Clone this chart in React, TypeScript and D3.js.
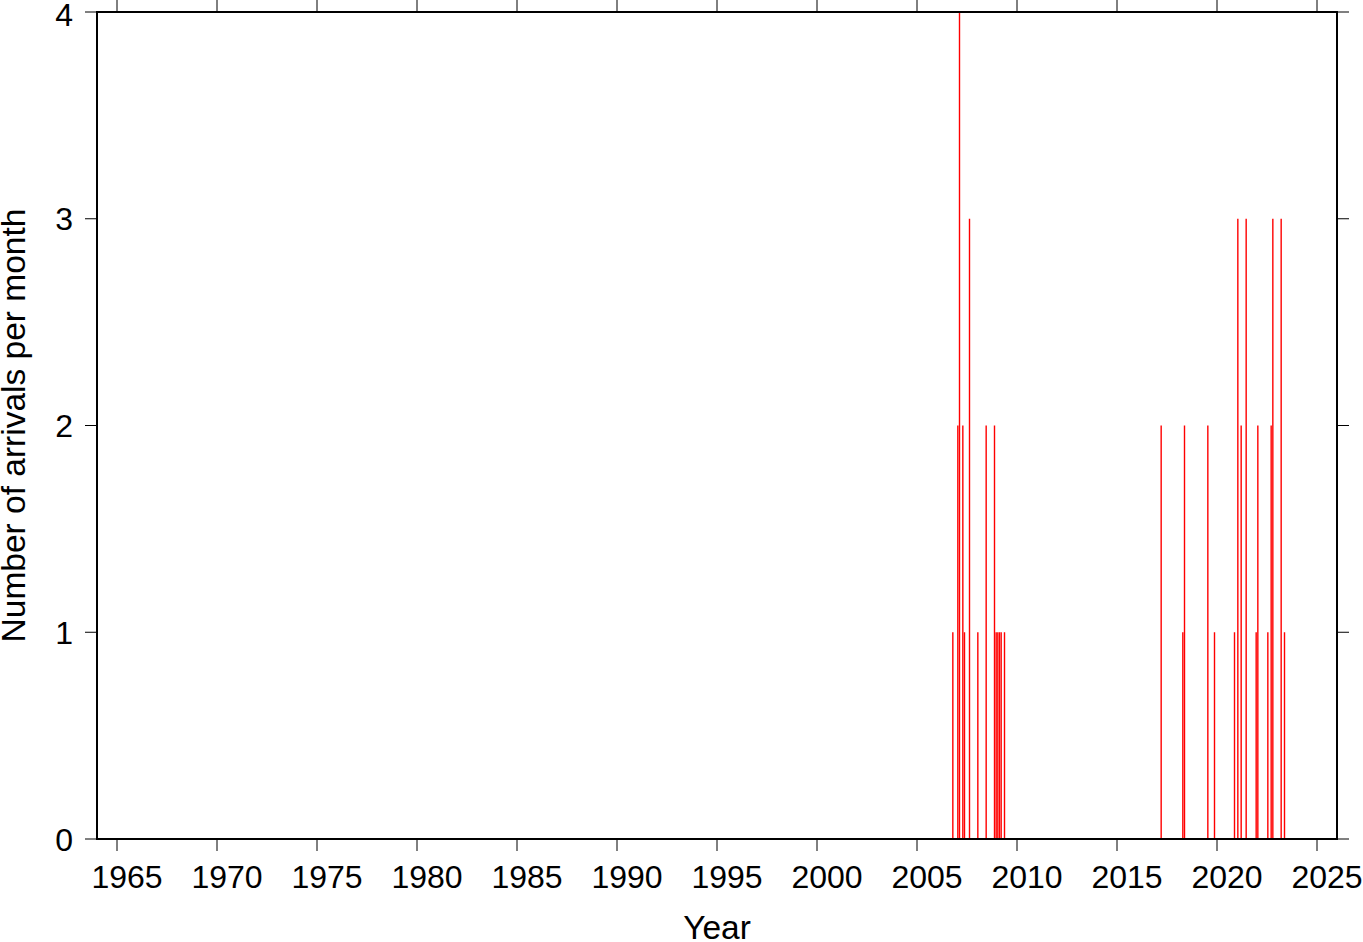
import React from "react";
import * as d3 from "d3";

// Monthly arrival counts
const years = [2006, 2007, 2007, 2007, 2007, 2007, 2008, 2008, 2008, 2008, 2009, 2009, 2009, 2009,
  2017, 2018, 2018, 2019, 2019,
  2020, 2021, 2021, 2021, 2021, 2022, 2022, 2022, 2022, 2023, 2023];
const months = [10, 1, 2, 4, 5, 8, 1, 6, 11, 12, 1, 2, 3, 5,
  3, 4, 5, 7, 11,
  11, 1, 3, 6, 12, 1, 7, 9, 10, 3, 5];
const counts = [1, 2, 4, 2, 1, 3, 1, 2, 2, 1, 1, 1, 1, 1,
  2, 1, 2, 2, 1,
  1, 3, 2, 3, 1, 2, 1, 2, 3, 3, 1];

const xTicks = [1965, 1970, 1975, 1980, 1985, 1990, 1995, 2000, 2005, 2010, 2015, 2020, 2025];
const yTicks = [0, 1, 2, 3, 4];

const W = 1363, H = 942;
const FONT = "'Liberation Sans', Arial, Helvetica, sans-serif";

export default function App() {
  const x = d3.scaleLinear().domain([1964, 2026]).range([97, 1337]);
  const y = d3.scaleLinear().domain([0, 4]).range([839, 12]);
  const data = years.map((yr, i) => ({ t: yr + (months[i] - 0.5) / 12, v: counts[i] }));
  const fs = 32;
  const lfs = 33.5;
  return (
    <svg width={W} height={H} style={{ position: "absolute", left: 0, top: 0, background: "#fff" }}>
      {data.map((d, i) => (
        <rect key={i} x={x(d.t) - 0.7} width={1.4} y={y(d.v)} height={y(0) - y(d.v)} fill="#ff0000" />
      ))}
      <rect x={x(1964)} y={y(4)} width={x(2026) - x(1964)} height={y(0) - y(4)} fill="none" stroke="#000" strokeWidth={2} />
      {xTicks.map((t) => (
        <g key={"x" + t}>
          <line x1={x(t)} x2={x(t)} y1={y(0)} y2={y(0) + 12} stroke="#000" strokeWidth={1} />
          <line x1={x(t)} x2={x(t)} y1={y(4)} y2={y(4) - 12} stroke="#000" strokeWidth={1} />
          <text x={x(t) + 10} y={888} textAnchor="middle" fontFamily={FONT} fontSize={fs}>{t}</text>
        </g>
      ))}
      {yTicks.map((t) => (
        <g key={"y" + t}>
          <line x1={x(1964) - 12} x2={x(1964)} y1={y(t)} y2={y(t)} stroke="#000" strokeWidth={1} />
          <line x1={x(2026)} x2={x(2026) + 12} y1={y(t)} y2={y(t)} stroke="#000" strokeWidth={1} />
          <text x={73} y={Math.max(y(t) + 11.5, 26)} textAnchor="end" fontFamily={FONT} fontSize={fs}>{t}</text>
        </g>
      ))}
      <text x={717} y={939} textAnchor="middle" fontFamily={FONT} fontSize={lfs}>Year</text>
      <text transform={`translate(25,425.5) rotate(-90)`} textAnchor="middle" fontFamily={FONT} fontSize={lfs}>Number of arrivals per month</text>
    </svg>
  );
}
